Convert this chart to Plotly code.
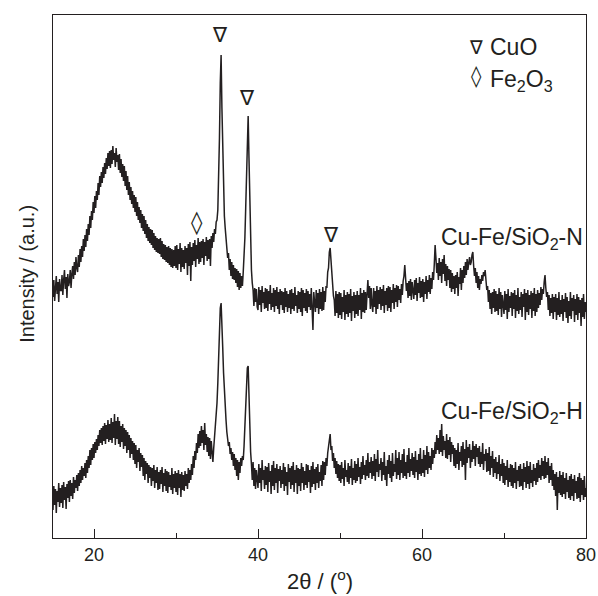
import plotly.graph_objects as go

# 2-theta measurement grid: 15.0 .. 80.0 deg, step 0.1
TWO_THETA_START = 15.0
TWO_THETA_STEP = 0.1

# Intensity (a.u.) of Cu-Fe/SiO2-N, one row per degree (x.0 .. x.9)
n_rows = [
    [241, 258, 237, 253, 262, 244, 256, 236, 259, 248],  # 15
    [247, 263, 243, 258, 268, 249, 261, 240, 264, 252],  # 16
    [256, 268, 250, 264, 272, 259, 276, 263, 281, 270],  # 17
    [266, 283, 271, 289, 276, 292, 281, 299, 287, 303],  # 18
    [291, 309, 297, 314, 303, 322, 310, 327, 318, 336],  # 19
    [325, 342, 330, 347, 338, 355, 343, 362, 351, 366],  # 20
    [355, 371, 360, 375, 364, 380, 369, 385, 372, 387],  # 21
    [370, 388, 374, 392, 378, 385, 371, 390, 376, 383],  # 22
    [368, 384, 365, 379, 361, 374, 357, 372, 352, 367],  # 23
    [348, 362, 343, 356, 338, 351, 334, 347, 330, 343],  # 24
    [326, 341, 322, 336, 318, 331, 315, 328, 310, 324],  # 25
    [307, 322, 304, 318, 300, 314, 297, 311, 295, 309],  # 26
    [293, 308, 290, 305, 288, 302, 286, 300, 285, 299],  # 27
    [284, 300, 281, 297, 279, 294, 278, 293, 276, 291],  # 28
    [275, 292, 273, 290, 271, 289, 270, 288, 272, 292],  # 29
    [270, 293, 268, 289, 274, 295, 266, 290, 271, 288],  # 30
    [269, 292, 275, 290, 263, 294, 272, 296, 257, 291],  # 31
    [273, 295, 277, 298, 271, 293, 279, 300, 274, 296],  # 32
    [276, 297, 280, 299, 273, 296, 282, 301, 277, 298],  # 33
    [279, 299, 272, 302, 290, 305, 296, 309, 304, 316],  # 34
    [318, 328, 360, 400, 455, 483, 430, 385, 345, 322],  # 35
    [310, 296, 294, 280, 285, 268, 279, 262, 276, 259],  # 36
    [273, 258, 270, 255, 269, 251, 267, 248, 265, 250],  # 37
    [262, 252, 266, 278, 300, 330, 365, 405, 422, 380],  # 38
    [335, 295, 268, 255, 248, 232, 250, 236, 249, 231],  # 39
    [228, 251, 233, 248, 226, 252, 235, 246, 229, 250],  # 40
    [230, 249, 227, 247, 234, 253, 228, 245, 231, 250],  # 41
    [226, 248, 232, 251, 229, 246, 224, 249, 233, 247],  # 42
    [228, 246, 225, 250, 231, 247, 226, 244, 230, 248],  # 43
    [224, 249, 229, 245, 227, 251, 232, 243, 225, 247],  # 44
    [229, 246, 226, 250, 222, 248, 230, 245, 227, 249],  # 45
    [225, 247, 231, 244, 228, 250, 226, 208, 246, 229],  # 46
    [226, 248, 230, 245, 224, 249, 229, 246, 227, 251],  # 47
    [228, 247, 236, 252, 250, 266, 270, 286, 290, 278],  # 48
    [264, 256, 242, 238, 222, 247, 225, 244, 220, 246],  # 49
    [223, 245, 219, 241, 226, 248, 218, 243, 224, 246],  # 50
    [221, 244, 225, 249, 217, 242, 227, 246, 220, 243],  # 51
    [224, 247, 222, 243, 228, 250, 219, 245, 226, 248],  # 52
    [225, 246, 228, 244, 258, 240, 252, 229, 250, 233],  # 53
    [226, 250, 231, 247, 224, 252, 229, 248, 234, 251],  # 54
    [228, 249, 232, 253, 225, 247, 233, 250, 227, 252],  # 55
    [230, 251, 226, 248, 235, 254, 229, 250, 236, 253],  # 56
    [231, 252, 238, 249, 235, 254, 243, 257, 262, 273],  # 57
    [260, 247, 255, 240, 257, 242, 259, 238, 256, 244],  # 58
    [239, 258, 243, 260, 237, 255, 245, 261, 240, 257],  # 59
    [241, 259, 236, 256, 244, 262, 239, 258, 246, 263],  # 60
    [244, 260, 249, 266, 258, 274, 293, 280, 265, 275],  # 61
    [258, 280, 262, 276, 255, 279, 264, 283, 257, 274],  # 62
    [252, 272, 258, 269, 250, 268, 246, 265, 249, 262],  # 63
    [244, 263, 250, 266, 242, 261, 254, 270, 248, 268],  # 64
    [255, 272, 260, 276, 263, 279, 268, 275, 281, 273],  # 65
    [276, 283, 286, 272, 262, 270, 255, 266, 250, 262],  # 66
    [248, 259, 254, 263, 257, 266, 262, 268, 258, 248],  # 67
    [252, 236, 248, 229, 245, 224, 246, 230, 249, 226],  # 68
    [247, 227, 244, 223, 250, 229, 246, 221, 243, 231],  # 69
    [224, 247, 228, 244, 219, 249, 226, 242, 230, 246],  # 70
    [222, 245, 229, 248, 220, 243, 227, 250, 224, 241],  # 71
    [228, 246, 221, 244, 231, 249, 218, 245, 226, 248],  # 72
    [223, 243, 229, 247, 220, 245, 227, 250, 222, 244],  # 73
    [226, 248, 230, 245, 233, 251, 238, 249, 244, 256],  # 74
    [263, 250, 241, 246, 228, 243, 222, 240, 225, 244],  # 75
    [219, 241, 226, 244, 218, 240, 223, 246, 221, 238],  # 76
    [224, 243, 217, 239, 226, 245, 220, 241, 215, 237],  # 77
    [222, 246, 219, 240, 227, 243, 216, 239, 223, 244],  # 78
    [218, 241, 225, 238, 212, 240, 221, 244, 219, 236],  # 79
    [226],                                               # 80.0
]

# Intensity (a.u.) of Cu-Fe/SiO2-H, one row per degree (x.0 .. x.9)
h_rows = [
    [28, 52, 33, 49, 25, 47, 36, 55, 31, 50],  # 15
    [35, 53, 30, 56, 38, 51, 29, 54, 40, 57],  # 16
    [36, 58, 42, 55, 39, 61, 45, 58, 50, 63],  # 17
    [47, 65, 52, 68, 55, 72, 58, 70, 62, 75],  # 18
    [60, 78, 65, 82, 70, 88, 73, 90, 78, 94],  # 19
    [80, 96, 85, 99, 88, 103, 92, 108, 95, 110],  # 20
    [93, 112, 97, 115, 94, 113, 99, 118, 96, 114],  # 21
    [98, 120, 95, 116, 100, 124, 93, 117, 99, 121],  # 22
    [94, 117, 91, 112, 96, 114, 89, 110, 92, 108],  # 23
    [85, 106, 88, 103, 80, 100, 84, 97, 78, 95],  # 24
    [74, 93, 70, 88, 76, 90, 67, 85, 71, 83],  # 25
    [62, 80, 58, 77, 64, 75, 55, 73, 60, 71],  # 26
    [52, 70, 57, 73, 50, 68, 55, 71, 48, 66],  # 27
    [49, 68, 54, 71, 46, 65, 52, 69, 47, 67],  # 28
    [45, 66, 51, 63, 48, 70, 44, 64, 50, 67],  # 29
    [46, 65, 43, 68, 50, 64, 41, 66, 48, 63],  # 30
    [47, 67, 52, 64, 49, 70, 55, 68, 58, 74],  # 31
    [63, 82, 70, 87, 78, 95, 85, 104, 90, 107],  # 32
    [92, 112, 95, 108, 88, 115, 93, 104, 86, 101],  # 33
    [82, 100, 79, 97, 86, 76, 90, 100, 112, 120],  # 34
    [135, 155, 180, 208, 230, 235, 218, 190, 165, 145],  # 35
    [130, 118, 106, 99, 92, 96, 84, 90, 78, 86],  # 36
    [72, 84, 68, 80, 62, 78, 58, 76, 65, 80],  # 37
    [72, 82, 78, 92, 110, 132, 155, 170, 172, 140],  # 38
    [108, 86, 74, 58, 76, 52, 70, 49, 68, 54],  # 39
    [50, 74, 55, 70, 47, 78, 58, 68, 49, 72],  # 40
    [53, 71, 46, 75, 56, 67, 44, 73, 52, 77],  # 41
    [48, 70, 55, 74, 45, 69, 57, 72, 50, 68],  # 42
    [54, 75, 47, 71, 52, 66, 43, 74, 56, 70],  # 43
    [49, 72, 53, 76, 46, 68, 55, 73, 44, 70],  # 44
    [52, 69, 47, 75, 55, 71, 48, 67, 53, 74],  # 45
    [50, 73, 56, 68, 45, 72, 51, 76, 54, 69],  # 46
    [48, 71, 55, 74, 50, 66, 57, 73, 52, 77],  # 47
    [58, 76, 63, 80, 72, 85, 90, 98, 104, 88],  # 48
    [92, 77, 85, 70, 80, 64, 77, 60, 74, 57],  # 49
    [73, 55, 76, 59, 70, 52, 78, 61, 68, 56],  # 50
    [75, 54, 72, 60, 79, 53, 70, 58, 77, 55],  # 51
    [74, 57, 80, 61, 71, 54, 76, 59, 82, 63],  # 52
    [73, 58, 78, 62, 85, 60, 76, 65, 81, 59],  # 53
    [77, 62, 84, 57, 79, 66, 88, 61, 74, 68],  # 54
    [80, 57, 76, 63, 86, 58, 72, 52, 78, 64],  # 55
    [83, 60, 77, 56, 85, 62, 74, 66, 88, 59],  # 56
    [80, 63, 86, 58, 78, 65, 84, 60, 89, 62],  # 57
    [76, 59, 83, 65, 90, 61, 79, 67, 85, 63],  # 58
    [81, 60, 87, 66, 78, 58, 84, 64, 90, 62],  # 59
    [79, 65, 88, 61, 83, 68, 92, 64, 86, 70],  # 60
    [82, 68, 90, 74, 88, 80, 96, 84, 103, 88],  # 61
    [100, 84, 108, 86, 114, 82, 102, 88, 97, 80],  # 62
    [104, 79, 98, 83, 101, 76, 96, 84, 93, 72],  # 63
    [90, 70, 88, 74, 95, 68, 86, 77, 92, 71],  # 64
    [96, 73, 89, 58, 98, 75, 91, 80, 94, 70],  # 65
    [88, 76, 97, 79, 92, 72, 94, 81, 90, 74],  # 66
    [92, 71, 86, 74, 95, 68, 84, 77, 89, 66],  # 67
    [85, 67, 91, 63, 82, 70, 87, 61, 79, 65],  # 68
    [81, 59, 76, 64, 83, 57, 74, 62, 79, 55],  # 69
    [75, 53, 72, 58, 78, 51, 70, 56, 74, 52],  # 70
    [73, 50, 70, 55, 76, 49, 68, 57, 72, 51],  # 71
    [74, 52, 69, 48, 75, 56, 71, 50, 77, 54],  # 72
    [72, 49, 76, 55, 68, 51, 74, 57, 70, 53],  # 73
    [75, 56, 78, 60, 73, 58, 80, 62, 77, 59],  # 74
    [82, 60, 76, 63, 80, 55, 72, 58, 75, 52],  # 75
    [68, 48, 64, 42, 66, 28, 61, 45, 67, 43],  # 76
    [63, 41, 66, 44, 60, 39, 65, 46, 58, 40],  # 77
    [62, 38, 64, 42, 59, 37, 63, 45, 57, 39],  # 78
    [61, 40, 65, 36, 60, 43, 58, 38, 62, 41],  # 79
    [50],                                      # 80.0
]

x_ticks = [20, 40, 60, 80]
x_tick_labels = ["20", "40", "60", "80"]
sample_labels = ["Cu-Fe/SiO<sub>2</sub>-N", "Cu-Fe/SiO<sub>2</sub>-H"]

intensity_n = [v for row in n_rows for v in row]
intensity_h = [v for row in h_rows for v in row]
two_theta = [round(TWO_THETA_START + i * TWO_THETA_STEP, 1) for i in range(len(intensity_n))]

INK = "#231f20"
FONT = "Liberation Sans, Arial, Helvetica, sans-serif"
SYM = "DejaVu Sans, sans-serif"

fig = go.Figure()
fig.add_trace(go.Scatter(x=two_theta, y=intensity_n, mode="lines",
                         line=dict(color=INK, width=1.5), showlegend=False, name="N"))
fig.add_trace(go.Scatter(x=two_theta, y=intensity_h, mode="lines",
                         line=dict(color=INK, width=1.5), showlegend=False, name="H"))


def txt(x, y, text, size, family=FONT, xanchor="center", yanchor="middle",
        xref="x", yref="y", angle=0):
    return dict(x=x, y=y, text=text, showarrow=False, xref=xref, yref=yref,
                xanchor=xanchor, yanchor=yanchor, textangle=angle,
                font=dict(family=family, size=size, color=INK))


ann = []
# CuO / Fe2O3 peak markers
for (x, y) in [(35.37, 503), (38.66, 440), (48.9, 303)]:
    ann.append(txt(x, y, "∇", 21, SYM))
ann.append(txt(32.56, 316, "◊", 23, SYM))
# legend
ann.append(txt(66.6, 491, "∇", 19, SYM))
ann.append(txt(68.0, 491, "CuO", 23, xanchor="left"))
ann.append(txt(66.6, 462, "◊", 21, SYM))
ann.append(txt(68.0, 458, "Fe<sub>2</sub>O<sub>3</sub>", 23, xanchor="left"))
# sample labels
ann.append(txt(79.85, 300, sample_labels[0], 23, xanchor="right"))
ann.append(txt(79.85, 126, sample_labels[1], 23, xanchor="right"))
# axis titles
ann.append(txt(0.5, -0.08, "2θ / (<sup>o</sup>)", 22, xref="paper", yref="paper"))
ann.append(txt(-0.049, 0.505, "Intensity / (a.u.)", 20, xref="paper", yref="paper", angle=-90))

fig.update_layout(
    width=598, height=596,
    margin=dict(l=53, r=12, t=15, b=58, autoexpand=False),
    paper_bgcolor="white", plot_bgcolor="white",
    annotations=ann,
    xaxis=dict(range=[15, 80], tickvals=x_ticks, ticktext=x_tick_labels,
               automargin=False,
               ticks="inside", ticklen=9, tickwidth=1.2, tickcolor=INK,
               minor=dict(ticks="inside", ticklen=5, tickwidth=1.2, tickcolor=INK,
                          tick0=0, dtick=10),
               showline=True, linecolor=INK, linewidth=1.3, mirror=True,
               showgrid=False, zeroline=False,
               tickfont=dict(family=FONT, size=18, color=INK)),
    yaxis=dict(range=[0, 523], showticklabels=False, ticks="", automargin=False,
               showline=True, linecolor=INK, linewidth=1.3, mirror=True,
               showgrid=False, zeroline=False),
)

fig.write_html("out.html", config={"displayModeBar": False},
               post_script="document.body.style.margin='0';document.body.style.overflow='hidden';")
